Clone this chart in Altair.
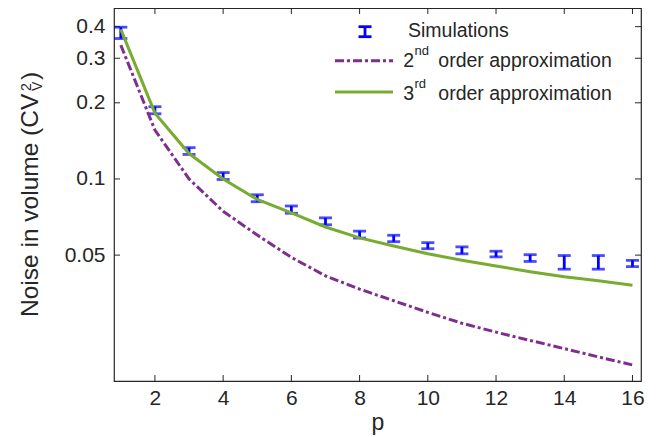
import altair as alt
import pandas as pd

# ---------------- data ----------------
p_vals = list(range(1, 17))
sim_lo = [0.359, 0.181, 0.125, 0.0995, 0.0813, 0.0732, 0.0659, 0.0584,
          0.0565, 0.0530, 0.0506, 0.0492, 0.0472, 0.0440, 0.0440, 0.0450]
sim_hi = [0.398, 0.193, 0.133, 0.106, 0.0866, 0.0782, 0.0702, 0.0622,
          0.0599, 0.0560, 0.0539, 0.0518, 0.0502, 0.0498, 0.0498, 0.0477]
third_order = [0.390, 0.182, 0.126, 0.100, 0.083, 0.0735, 0.0646, 0.0585,
               0.0543, 0.0506, 0.0477, 0.0453, 0.0430, 0.0411, 0.0396, 0.0380]
second_order = [0.338, 0.156, 0.100, 0.0745, 0.0600, 0.0490, 0.0414, 0.0367,
                0.0330, 0.0297, 0.0269, 0.0248, 0.0230, 0.02135, 0.0198, 0.0184]

x_ticks = [2, 4, 6, 8, 10, 12, 14, 16]
y_ticks = [0.05, 0.1, 0.2, 0.3, 0.4]
x_domain = [0.8, 16.25]
y_domain = [0.0159, 0.474]

legend_sim = "Simulations"
legend_2 = ("2", "nd", "order approximation")
legend_3 = ("3", "rd", "order approximation")
ytitle_main, ytitle_sup, ytitle_sub, ytitle_end = "Noise in volume (CV", "2", "V", ")"
x_title = "p"

# ---------------- style ----------------
W, H = 527, 373
FONT = "Liberation Sans"
AX = "#262626"
BLUE = "#0000ff"
PURPLE = "#7E2F8E"
GREEN = "#77AC30"
DASH = [9, 3, 3, 3]

sim_df = pd.DataFrame({"p": p_vals, "lo": sim_lo, "hi": sim_hi})
line_df = pd.DataFrame({"p": p_vals, "second": second_order, "third": third_order})
xt_df = pd.DataFrame({"t": x_ticks})
yt_df = pd.DataFrame({"v": y_ticks})
one = pd.DataFrame({"a": [0]})

xscale = alt.Scale(domain=x_domain, nice=False, zero=False)
yscale = alt.Scale(type="log", domain=y_domain, nice=False)
xaxis = alt.Axis(values=x_ticks, ticks=False, domain=False, grid=False,
                 labelFontSize=21, labelColor=AX, labelPadding=6, labelFont=FONT,
                 title=x_title, titleFontSize=23, titleFontWeight="normal",
                 titleColor=AX, titleFont=FONT, titlePadding=3)
yaxis = alt.Axis(values=y_ticks, ticks=False, domain=False, grid=False,
                 labelFontSize=21, labelColor=AX, labelPadding=9, labelFont=FONT,
                 format=".2~f", title=None)

def X(field):
    return alt.X(field, type="quantitative", scale=xscale, axis=xaxis, title=x_title)

def Y(field):
    return alt.Y(field, type="quantitative", scale=yscale, axis=yaxis, title=None)

errbars = alt.Chart(sim_df).mark_errorbar(
    ticks=True, size=13, thickness=2.8, color=BLUE
).encode(x=X("p"), y=Y("lo"), y2="hi")

second_line = alt.Chart(line_df).mark_line(
    color=PURPLE, strokeWidth=3, strokeDash=DASH
).encode(x=X("p"), y=Y("second"))

third_line = alt.Chart(line_df).mark_line(
    color=GREEN, strokeWidth=3
).encode(x=X("p"), y=Y("third"))

TL = 6
xt_bottom = alt.Chart(xt_df).mark_rule(color=AX, strokeWidth=1).encode(
    x=X("t"), y=alt.value(H), y2=alt.value(H - TL))
xt_top = alt.Chart(xt_df).mark_rule(color=AX, strokeWidth=1).encode(
    x=X("t"), y=alt.value(0), y2=alt.value(TL))
yt_left = alt.Chart(yt_df).mark_rule(color=AX, strokeWidth=1).encode(
    y=Y("v"), x=alt.value(0), x2=alt.value(TL))
yt_right = alt.Chart(yt_df).mark_rule(color=AX, strokeWidth=1).encode(
    y=Y("v"), x=alt.value(W - TL), x2=alt.value(W))

# ---------------- legend (manual) ----------------
def txt(s, x, y, size, **kw):
    return alt.Chart(one).mark_text(
        text=s, font=FONT, fontSize=size, color=AX, align="left",
        baseline="alphabetic", **kw
    ).encode(x=alt.value(x), y=alt.value(y))

def hrule(x1, x2, y, **kw):
    return alt.Chart(one).mark_rule(**kw).encode(
        x=alt.value(x1), x2=alt.value(x2), y=alt.value(y))

LF = 19.5
SF = 13
leg = [
    # error bar icon
    alt.Chart(one).mark_rule(color=BLUE, strokeWidth=2.8).encode(
        x=alt.value(251), y=alt.value(18.7), y2=alt.value(28.7)),
    hrule(244.5, 257.5, 18.7, color=BLUE, strokeWidth=2.8),
    hrule(244.5, 257.5, 28.7, color=BLUE, strokeWidth=2.8),
    txt(legend_sim, 294, 29, LF),
    # second order
    hrule(221, 279, 52.7, color=PURPLE, strokeWidth=3, strokeDash=DASH),
    txt(legend_2[0], 289.3, 58.7, LF),
    txt(legend_2[1], 300.5, 46.7, SF),
    txt(legend_2[2], 324.3, 58.7, LF),
    # third order
    hrule(221, 279, 84, color=GREEN, strokeWidth=3),
    txt(legend_3[0], 289.3, 92, LF),
    txt(legend_3[1], 300.5, 79.7, SF),
    txt(legend_3[2], 324.3, 92, LF),
]

# ---------------- y title (manual, rotated) ----------------
TF = 24.5
ytitle = [
    txt(ytitle_main, -75.7, 309, TF, angle=270),
    txt(ytitle_sup, -83, 83, 14, angle=270),
    txt(ytitle_sub, -72, 83, 14, angle=270),
    txt(ytitle_end, -75.7, 72, TF, angle=270),
]

chart = alt.layer(
    xt_bottom, xt_top, yt_left, yt_right,
    errbars, second_line, third_line,
    *leg, *ytitle
).properties(
    width=W, height=H,
    autosize=alt.AutoSizeParams(type="none"),
    padding={"left": 106, "top": 0, "right": 8, "bottom": 56},
    background="white",
).configure_view(
    stroke=AX, strokeWidth=1.2
)

chart.save("out.html", embed_options={"renderer": "svg", "actions": False})
